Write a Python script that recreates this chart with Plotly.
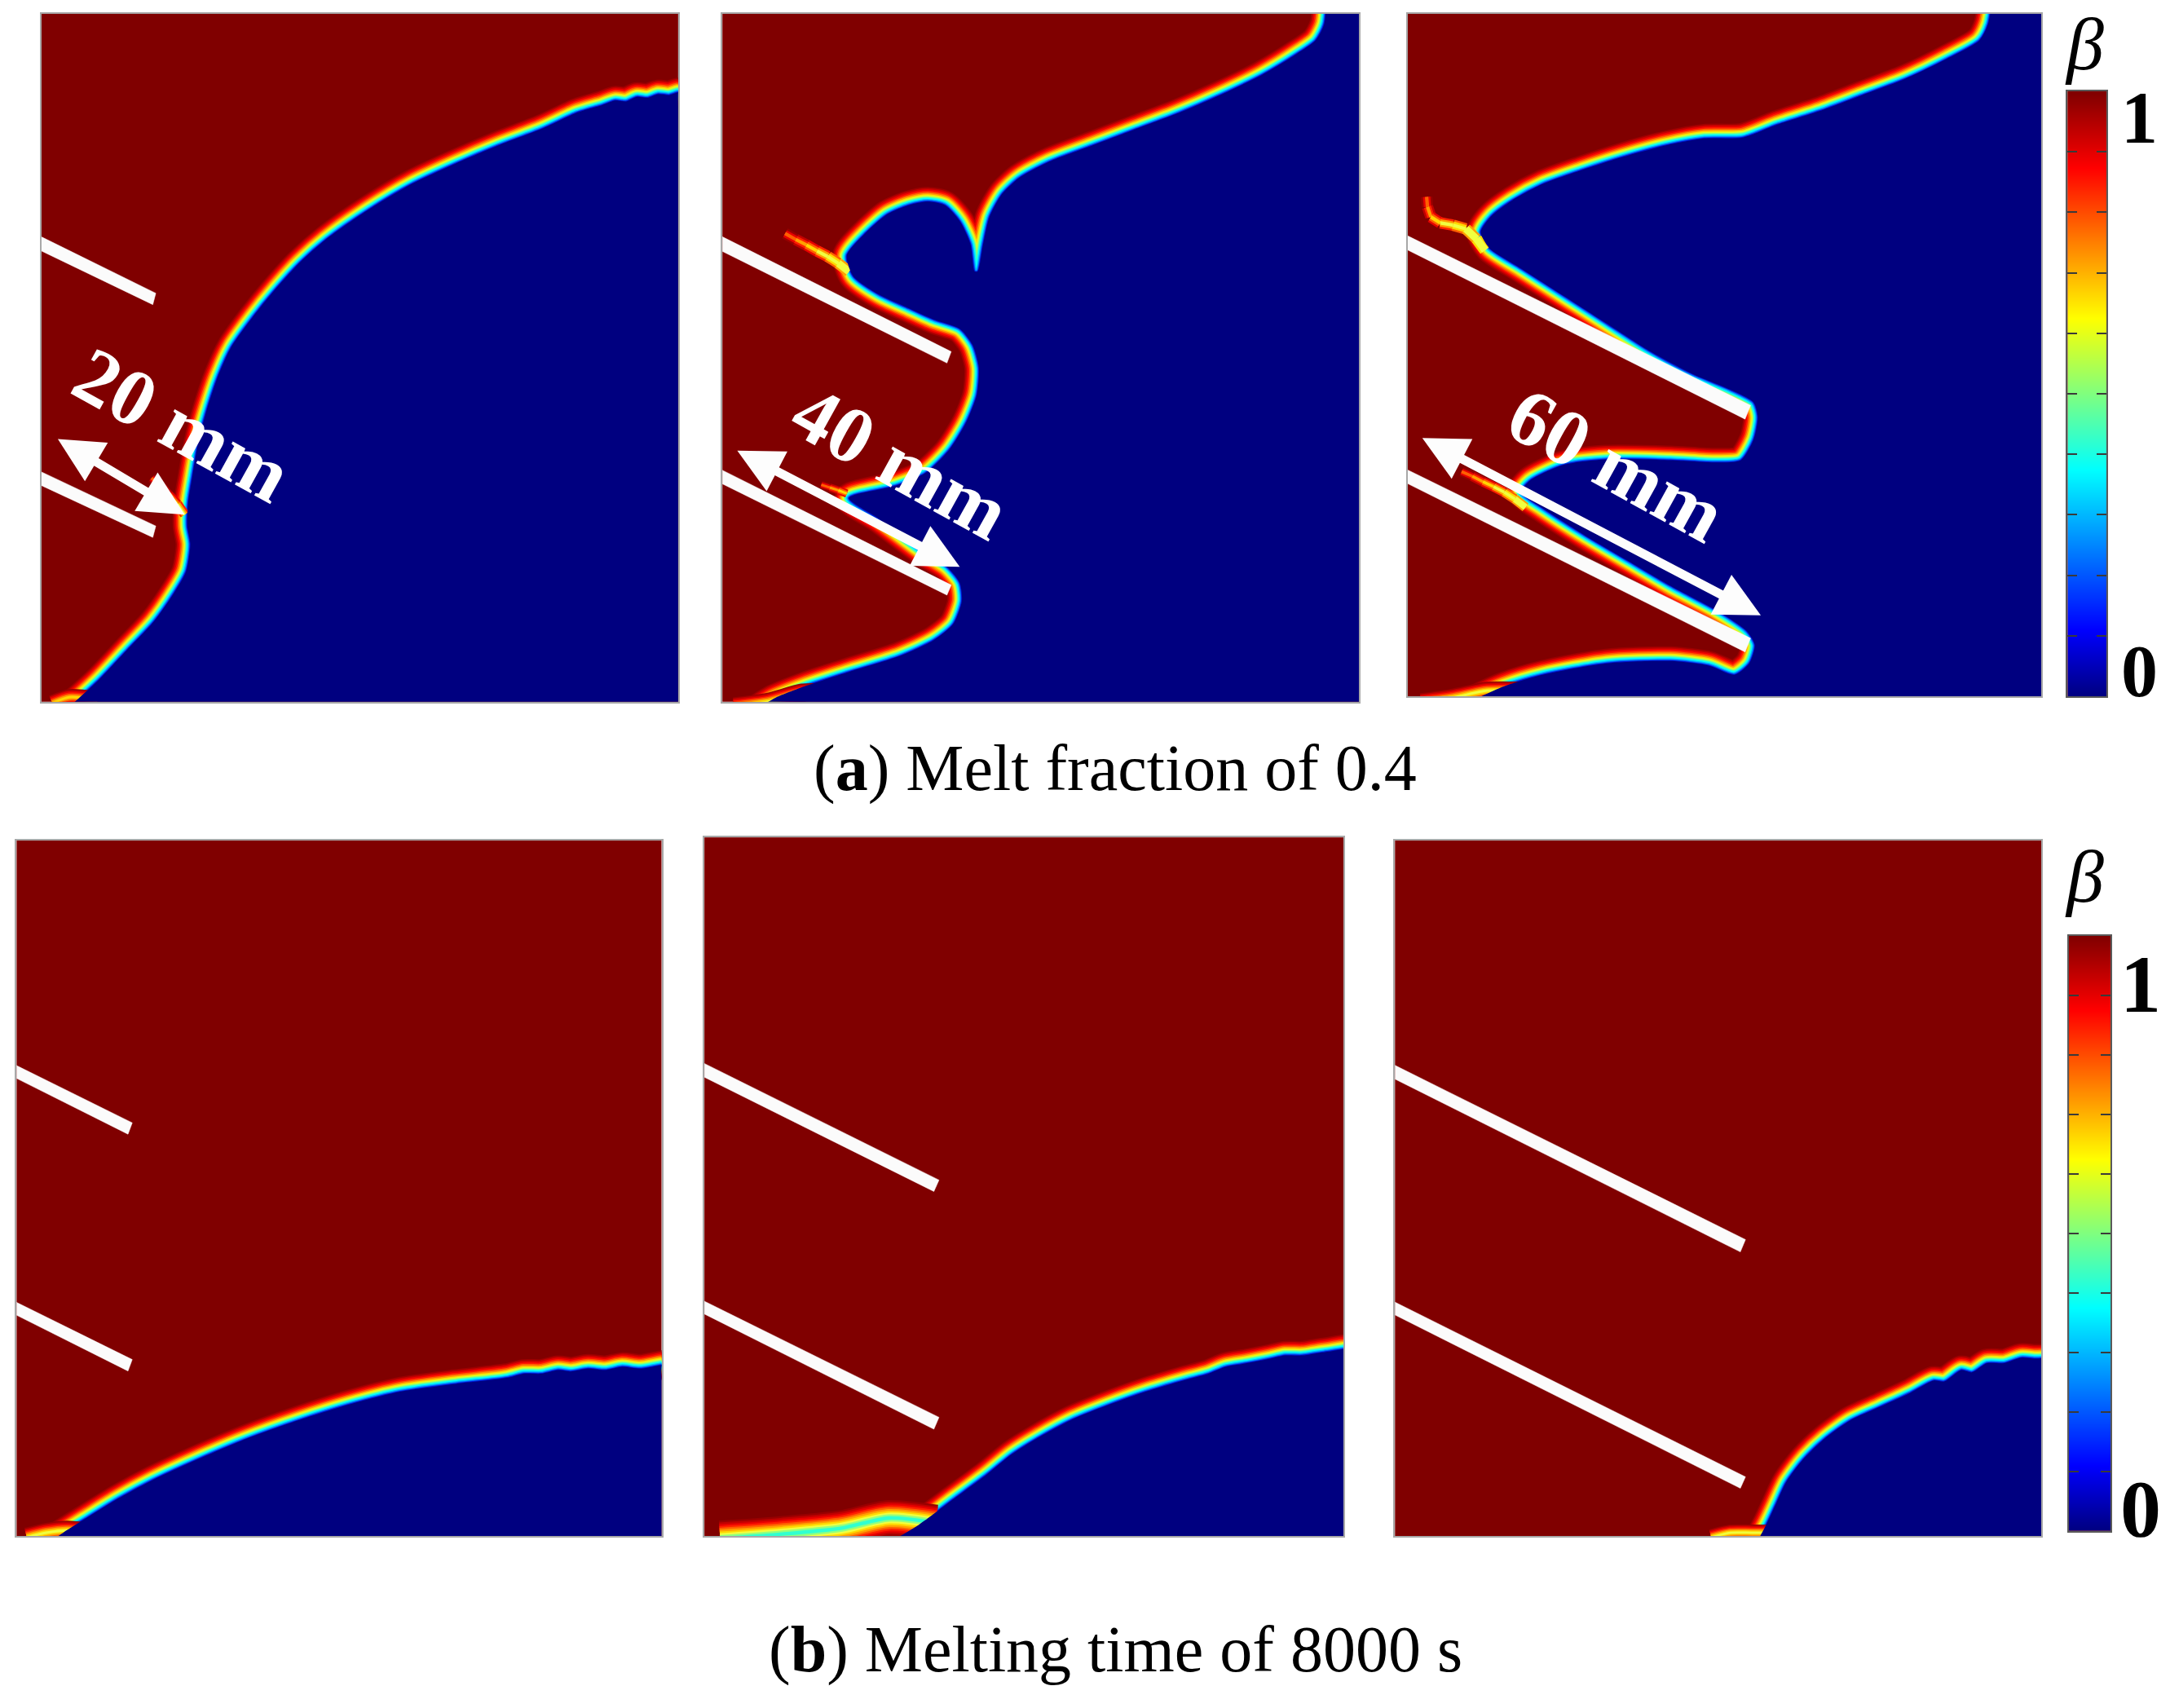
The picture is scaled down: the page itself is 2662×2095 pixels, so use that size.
import plotly.graph_objects as go

# ---- panel frames: figure position (fractions of a 1568 x 1234 sheet) and data window
A1_BOX = [30, 490, 10, 507];     A1_RANGE = [40, 1516, 1535, 28]
A2_BOX = [522, 982, 10, 507];    A2_RANGE = [33, 1527, 1530, 27]
A3_BOX = [1017, 1475, 10, 503];  A3_RANGE = [33, 1520, 1522, 27]
B1_BOX = [12, 478, 607, 1110];   B1_RANGE = [21, 1532, 1538, 18]
B2_BOX = [509, 971, 605, 1110];  B2_RANGE = [18, 1517, 1540, 14]
B3_BOX = [1008, 1475, 607, 1110]; B3_RANGE = [25, 1537, 1538, 18]
CB_A_BOX = [1494, 1522, 66, 503]
CB_B_BOX = [1495, 1525, 676, 1106]

# ---- edge of the solid (beta = 0) region in each panel
A1_EDGE_X = [1560, 1516, 1495, 1470, 1445, 1420, 1395, 1370, 1340, 1310, 1280, 1200, 1100, 1000, 900, 800, 700, 640, 580, 530, 480, 450, 425, 405, 390, 380, 378, 385, 375, 345, 300, 240, 170, 105, 60, 60, 1560]
A1_EDGE_Y = [200, 200, 206, 204, 212, 210, 220, 218, 228, 236, 245, 280, 316, 356, 400, 456, 522, 572, 634, 692, 758, 820, 890, 960, 1040, 1100, 1150, 1190, 1250, 1300, 1360, 1420, 1490, 1545, 1580, 1640, 1640]

A2_EDGE_X = [1452, 1445, 1425, 1380, 1300, 1200, 1100, 1000, 900, 800, 730, 690, 660, 645, 632, 625, 615, 590, 555, 515, 470, 420, 370, 325, 340, 400, 470, 530, 590, 620, 635, 630, 605, 565, 510, 440, 330, 400, 500, 560, 590, 595, 575, 530, 450, 330, 230, 150, 100, 100, 1600, 1600, 1452]
A2_EDGE_Y = [-30, 50, 85, 115, 160, 205, 245, 280, 315, 350, 385, 420, 470, 530, 590, 590, 530, 480, 445, 437, 445, 465, 505, 555, 600, 640, 670, 695, 715, 750, 800, 860, 920, 980, 1030, 1058, 1085, 1130, 1200, 1235, 1270, 1310, 1360, 1395, 1430, 1465, 1495, 1525, 1560, 1640, 1640, -80, -80]

A3_EDGE_X = [1408, 1395, 1375, 1300, 1200, 1100, 1000, 900, 820, 730, 640, 540, 440, 350, 280, 230, 205, 225, 300, 400, 500, 600, 700, 790, 845, 855, 845, 815, 760, 650, 500, 400, 320, 300, 350, 450, 550, 650, 760, 830, 848, 835, 800, 740, 650, 500, 350, 260, 200, 150, 150, 1600, 1600, 1408]
A3_EDGE_Y = [-30, 50, 85, 125, 170, 205, 240, 270, 298, 300, 315, 340, 370, 400, 435, 470, 505, 540, 585, 645, 705, 765, 815, 850, 878, 910, 960, 1005, 1010, 1005, 1003, 1015, 1050, 1075, 1110, 1170, 1225, 1280, 1335, 1380, 1410, 1450, 1475, 1455, 1445, 1450, 1475, 1500, 1525, 1550, 1640, 1640, -80, -80]

B1_EDGE_X = [70, 130, 190, 260, 340, 450, 560, 680, 800, 920, 1050, 1170, 1210, 1250, 1290, 1320, 1360, 1400, 1440, 1480, 1600, 1600, 70]
B1_EDGE_Y = [1570, 1530, 1495, 1455, 1415, 1368, 1325, 1285, 1250, 1222, 1205, 1192, 1183, 1183, 1175, 1178, 1172, 1175, 1168, 1172, 1165, 1640, 1640]

B2_EDGE_X = [420, 520, 600, 680, 740, 800, 880, 960, 1050, 1140, 1200, 1240, 1290, 1340, 1380, 1420, 1470, 1600, 1600, 420]
B2_EDGE_Y = [1570, 1515, 1460, 1405, 1360, 1325, 1285, 1255, 1225, 1200, 1185, 1170, 1162, 1153, 1145, 1145, 1138, 1135, 1640, 1640]

B3_EDGE_X = [860, 895, 915, 940, 980, 1030, 1090, 1160, 1230, 1285, 1310, 1350, 1375, 1410, 1450, 1490, 1520, 1600, 1600, 860]
B3_EDGE_Y = [1570, 1510, 1470, 1420, 1370, 1325, 1285, 1255, 1225, 1198, 1200, 1175, 1180, 1160, 1160, 1148, 1150, 1158, 1640, 1640]

# ---- mushy streaks that fade along their length, tip first
A1_TIP_X = [295, 315, 335, 355, 372];                          A1_TIP_Y = [1045, 1062, 1082, 1102, 1125]
A2_TIP1_X = [180, 205, 230, 255, 280, 305, 330];               A2_TIP1_Y = [507, 520, 532, 545, 557, 572, 590]
A2_TIP2_X = [265, 285, 305, 325];                              A2_TIP2_Y = [1056, 1062, 1068, 1075]
A3_TIP1_X = [78, 80, 88, 110, 140, 170, 195, 215];             A3_TIP1_Y = [428, 450, 472, 485, 490, 498, 520, 545]
A3_TIP2_X = [160, 185, 210, 235, 260, 285, 310];               A3_TIP2_Y = [1030, 1040, 1052, 1063, 1075, 1090, 1108]

# ---- wide mushy pools along the base of a panel, left to right
A1_POOL_X = [65, 105, 170];            A1_POOL_Y = [1538, 1525, 1530]
A2_POOL_X = [60, 140, 220, 280];       A2_POOL_Y = [1540, 1530, 1510, 1510]
A3_POOL_X = [65, 140, 220, 300];       A3_POOL_Y = [1535, 1525, 1510, 1510]
B1_POOL_X = [45, 90, 140, 200];        B1_POOL_Y = [1540, 1530, 1525, 1530]
B2_POOL_X = [55, 200, 340, 450, 560];  B2_POOL_Y = [1545, 1535, 1522, 1500, 1510]
B3_POOL_X = [765, 810, 860, 920];      B3_POOL_Y = [1540, 1530, 1530, 1530]

# ---- fins
A1_FIN1_X = [30, 305, 298, 30];   A1_FIN1_Y = [512, 640, 665, 543]
A1_FIN2_X = [30, 305, 298, 30];   A1_FIN2_Y = [1027, 1150, 1175, 1057]
A2_FIN1_X = [20, 570, 560, 20];   A2_FIN1_Y = [508, 765, 790, 540]
A2_FIN2_X = [20, 570, 560, 20];   A2_FIN2_Y = [1018, 1275, 1297, 1048]
A3_FIN1_X = [20, 838, 825, 20];   A3_FIN1_Y = [507, 885, 915, 538]
A3_FIN2_X = [20, 838, 825, 20];   A3_FIN2_Y = [1020, 1395, 1425, 1050]
B1_FIN1_X = [10, 292, 282, 10];   B1_FIN1_Y = [505, 635, 660, 533]
B1_FIN2_X = [10, 292, 282, 10];   B1_FIN2_Y = [1022, 1152, 1177, 1050]
B2_FIN1_X = [8, 568, 556, 8];     B2_FIN1_Y = [503, 762, 787, 533]
B2_FIN2_X = [8, 568, 556, 8];     B2_FIN2_Y = [1022, 1280, 1306, 1050]
B3_FIN1_X = [15, 845, 833, 15];   B3_FIN1_Y = [505, 890, 917, 535]
B3_FIN2_X = [15, 845, 833, 15];   B3_FIN2_Y = [1022, 1408, 1433, 1050]

# ---- dimension arrows: x tail, y tail, x head, y head
A1_ARROW = [75, 958, 372, 1125]
A2_ARROW = [65, 980, 590, 1235]
A3_ARROW = [65, 955, 862, 1345]

# ---- labels
FIN_LABELS = ["20 mm", "40 mm", "60 mm"]
FIN_LABEL_X = [132, 651, 1168]
FIN_LABEL_Y = [307, 334, 336]
CAPTIONS = ["(<b>a</b>) Melt fraction of 0.4", "(<b>b</b>) Melting time of 8000 s"]
CAPTION_X = [806, 806]
CAPTION_Y = [555, 1192]
BETA_LABEL = "β"
BETA_X = [1506, 1506]
BETA_Y = [32, 633]
CB_ONE_Y = [85, 711]
CB_ZERO_Y = [485, 1090]
CB_TEXT_X = [1546, 1547]
CB_TEXT_SIZE = [90, 100]

# ---- colour bar
BETA_LEVELS = [0, 0.11, 0.25, 0.375, 0.5, 0.625, 0.75, 0.875, 1]
BETA_TICKS = [0.1, 0.2, 0.3, 0.4, 0.5, 0.6, 0.7, 0.8, 0.9]
JET = [[0, "#000080"], [0.11, "#0000ff"], [0.375, "#00ffff"], [0.625, "#ffff00"], [0.875, "#ff0000"], [1, "#800000"]]

# ---- interface band: stroke widths and the colours they take, outermost first
BAND_WIDTHS = [36, 33, 30, 27, 24, 21, 18, 15.5, 13, 11, 9, 6.5, 4, 2]
BAND_COLORS = ["#9a0000", "#c00000", "#e80000", "#ff1800", "#ff5a00", "#ff9c00", "#ffdc00", "#d8ff28", "#90ff70", "#48ffb8", "#00ffff", "#00b8ff", "#0068ff", "#0018d0"]
MUSHY_COLORS = ["#980000", "#c00000", "#e80000", "#ff2000", "#ff6000", "#ffa000", "#ffd800", "#f0ff40", "#90ff80", "#30ffd0"]

SHEET_W, SHEET_H = 1568, 1234
DARK_RED = "#800000"
NAVY = "#000080"

fig = go.Figure()
layout = dict(
    width=2662, height=2095, margin=dict(l=0, r=0, t=0, b=0),
    paper_bgcolor="white", plot_bgcolor=DARK_RED, showlegend=False, hovermode=False,
)
annotations = []


def frame(n, box, xrange, yrange):
    xn, yn = ("xaxis" + str(n), "yaxis" + str(n))
    common = dict(visible=True, showgrid=False, zeroline=False, showticklabels=False, ticks="",
                  showline=True, linecolor="#a8a8a8", linewidth=2, mirror=True)
    layout[xn] = dict(domain=[box[0] / SHEET_W, box[1] / SHEET_W], range=xrange, anchor="y" + str(n), **common)
    layout[yn] = dict(domain=[1 - box[3] / SHEET_H, 1 - box[2] / SHEET_H], range=yrange, anchor="x" + str(n), **common)


def panel(n, box, rng, edge_x, edge_y, fins, tips=(), pools=(), arrow=None):
    frame(n, box, rng[:2], rng[2:])
    ax = dict(xaxis="x" + str(n), yaxis="y" + str(n), hoverinfo="skip", mode="lines")
    smooth = dict(shape="spline", smoothing=0.7)
    for w, c in zip(BAND_WIDTHS, BAND_COLORS):
        fig.add_trace(go.Scatter(x=edge_x, y=edge_y, line=dict(color=c, width=w, **smooth), **ax))
    # pools: nested strokes, the centre is the least melted
    for px, py, pw, depth in pools:
        for k in range(depth):
            fig.add_trace(go.Scatter(x=px, y=py, line=dict(color=MUSHY_COLORS[k], width=pw * (1 - k / depth), **smooth), **ax))
    # tips: colour rises from the faint tip toward the interface
    for tx, ty, tw in tips:
        for j, scale in enumerate([1.0, 0.65, 0.3]):
            for i in range(len(tx) - 1):
                c = MUSHY_COLORS[min(i + 2 * j, len(MUSHY_COLORS) - 3)]
                fig.add_trace(go.Scatter(x=tx[i:i + 2], y=ty[i:i + 2], line=dict(color=c, width=tw * scale), **ax))
    fig.add_trace(go.Scatter(x=edge_x, y=edge_y, fill="toself", fillcolor=NAVY, line=dict(width=0, **smooth), **ax))
    for fx, fy in fins:
        fig.add_trace(go.Scatter(x=fx + fx[:1], y=fy + fy[:1], fill="toself", fillcolor="#fbfbfb",
                                 line=dict(color="#fbfbfb", width=0.5), **ax))
    if arrow:
        annotations.append(dict(
            xref="x" + str(n), yref="y" + str(n), axref="x" + str(n), ayref="y" + str(n),
            ax=arrow[0], ay=arrow[1], x=arrow[2], y=arrow[3], text="", showarrow=True,
            arrowhead=2, startarrowhead=2, arrowside="end+start", arrowwidth=11, arrowsize=1,
            startarrowsize=1, arrowcolor="#fdfdfd", standoff=0, startstandoff=0))


def colorbar(n, box):
    frame(n, box, [0, 1], [0, 1])
    fig.add_trace(go.Heatmap(x=[0, 1], y=BETA_LEVELS, z=[[v, v] for v in BETA_LEVELS], colorscale=JET,
                             zmin=0, zmax=1, zsmooth="best", showscale=False, hoverinfo="skip",
                             xaxis="x" + str(n), yaxis="y" + str(n)))
    layout["yaxis" + str(n)].update(tickvals=BETA_TICKS, ticks="inside", ticklen=12, tickwidth=2,
                                    tickcolor="#3a3a3a", mirror="ticks", linecolor="#5a5a5a")
    layout["xaxis" + str(n)].update(linecolor="#5a5a5a")


def sheet_text(text, x, y, size, angle=0, color="black", family="Liberation Serif"):
    annotations.append(dict(xref="paper", yref="paper", x=x / SHEET_W, y=1 - y / SHEET_H, text=text,
                            showarrow=False, xanchor="center", yanchor="middle", textangle=angle,
                            font=dict(family=family, size=size, color=color)))


panel(1, A1_BOX, A1_RANGE, A1_EDGE_X, A1_EDGE_Y, [(A1_FIN1_X, A1_FIN1_Y), (A1_FIN2_X, A1_FIN2_Y)],
      tips=[(A1_TIP_X, A1_TIP_Y, 12)], pools=[(A1_POOL_X, A1_POOL_Y, 20, 7)], arrow=A1_ARROW)
panel(2, A2_BOX, A2_RANGE, A2_EDGE_X, A2_EDGE_Y, [(A2_FIN1_X, A2_FIN1_Y), (A2_FIN2_X, A2_FIN2_Y)],
      tips=[(A2_TIP1_X, A2_TIP1_Y, 14), (A2_TIP2_X, A2_TIP2_Y, 10)], pools=[(A2_POOL_X, A2_POOL_Y, 22, 8)], arrow=A2_ARROW)
panel(3, A3_BOX, A3_RANGE, A3_EDGE_X, A3_EDGE_Y, [(A3_FIN1_X, A3_FIN1_Y), (A3_FIN2_X, A3_FIN2_Y)],
      tips=[(A3_TIP1_X, A3_TIP1_Y, 14), (A3_TIP2_X, A3_TIP2_Y, 12)], pools=[(A3_POOL_X, A3_POOL_Y, 22, 8)], arrow=A3_ARROW)
panel(4, B1_BOX, B1_RANGE, B1_EDGE_X, B1_EDGE_Y, [(B1_FIN1_X, B1_FIN1_Y), (B1_FIN2_X, B1_FIN2_Y)],
      pools=[(B1_POOL_X, B1_POOL_Y, 24, 8)])
panel(5, B2_BOX, B2_RANGE, B2_EDGE_X, B2_EDGE_Y, [(B2_FIN1_X, B2_FIN1_Y), (B2_FIN2_X, B2_FIN2_Y)],
      pools=[(B2_POOL_X, B2_POOL_Y, 44, 10)])
panel(6, B3_BOX, B3_RANGE, B3_EDGE_X, B3_EDGE_Y, [(B3_FIN1_X, B3_FIN1_Y), (B3_FIN2_X, B3_FIN2_Y)],
      pools=[(B3_POOL_X, B3_POOL_Y, 20, 8)])
colorbar(7, CB_A_BOX)
colorbar(8, CB_B_BOX)

for t, x, y in zip(FIN_LABELS, FIN_LABEL_X, FIN_LABEL_Y):
    sheet_text("<b>" + t + "</b>", x, y, 98, angle=29, color="white")
for t, x, y in zip(CAPTIONS, CAPTION_X, CAPTION_Y):
    sheet_text(t, x, y, 80)
for x, y in zip(BETA_X, BETA_Y):
    sheet_text("<i>" + BETA_LABEL + "</i>", x, y, 92)
for x, y1, y0, s in zip(CB_TEXT_X, CB_ONE_Y, CB_ZERO_Y, CB_TEXT_SIZE):
    sheet_text("<b>1</b>", x, y1, s)
    sheet_text("<b>0</b>", x, y0, s)

layout["annotations"] = annotations
fig.update_layout(**layout)
fig.write_html("out.html", config={"displayModeBar": False},
               post_script="document.body.style.margin='0';")
